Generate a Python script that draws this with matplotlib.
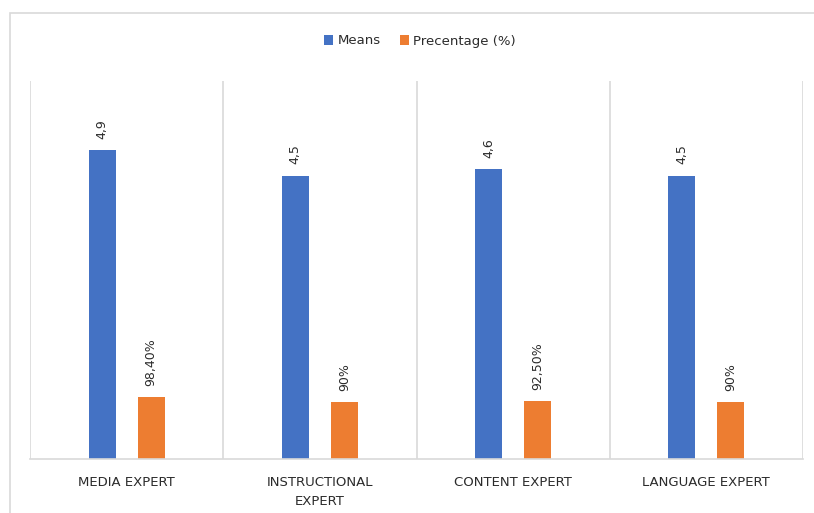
import numpy as np
import matplotlib.pyplot as plt
from matplotlib.patches import Rectangle

# data
categories = ["MEDIA EXPERT", "INSTRUCTIONAL\nEXPERT", "CONTENT EXPERT", "LANGUAGE EXPERT"]
means = [4.9, 4.5, 4.6, 4.5]
percentage = [98.4, 90.0, 92.5, 90.0]
mean_labels = ["4,9", "4,5", "4,6", "4,5"]
pct_labels = ["98,40%", "90%", "92,50%", "90%"]

blue = "#4472C4"
orange = "#ED7D31"
grid_col = "#D9D9D9"
text_col = "#2B2B2B"

fig = plt.figure(figsize=(8.14, 5.13), dpi=100)
ax = fig.add_axes([30 / 814, 1 - 459 / 513, 773 / 814, 378 / 513])

# outer chart frame
fig.patches.append(Rectangle((10 / 814, -0.1), 1.2, 1 - 13 / 513 + 0.1,
                             transform=fig.transFigure, fill=False,
                             edgecolor=grid_col, linewidth=1.2))

x = np.arange(len(categories))
w = 0.14
off = 0.127
pct_vals = np.array(percentage) / 100.0  # plotted on the same axis as the means

b1 = ax.bar(x - off, means, w, color=blue, label="Means")
b2 = ax.bar(x + off, pct_vals, w, color=orange, label="Precentage (%)")

for rect, lab in zip(b1, mean_labels):
    ax.annotate(lab, (rect.get_x() + rect.get_width() / 2, rect.get_height()),
                xytext=(0, 8), textcoords="offset points", rotation=90,
                ha="center", va="bottom", fontsize=9, color=text_col)
for rect, lab in zip(b2, pct_labels):
    ax.annotate(lab, (rect.get_x() + rect.get_width() / 2, rect.get_height()),
                xytext=(0, 8), textcoords="offset points", rotation=90,
                ha="center", va="bottom", fontsize=9, color=text_col)

ax.set_xlim(-0.5, len(categories) - 0.5)
ax.set_ylim(0, 6)
ax.set_yticks([])
ax.set_xticks(x)
ax.set_xticklabels(categories, fontsize=9.5, color=text_col, linespacing=1.6)
ax.tick_params(axis="x", length=0, pad=12)

# category separators
for b in np.arange(-0.5, len(categories), 1.0):
    ax.axvline(b, color=grid_col, linewidth=1.2, zorder=0)

for s in ["top", "left", "right"]:
    ax.spines[s].set_visible(False)
ax.spines["bottom"].set_color(grid_col)
ax.spines["bottom"].set_linewidth(1.2)

fig.legend(loc="center", bbox_to_anchor=(0.516, 1 - 41 / 513), ncol=2,
           frameon=False, fontsize=9.5, handlelength=0.7, handleheight=0.7,
           handletextpad=0.3, columnspacing=1.5, labelcolor=text_col)

fig.savefig("out.png", dpi=100)
